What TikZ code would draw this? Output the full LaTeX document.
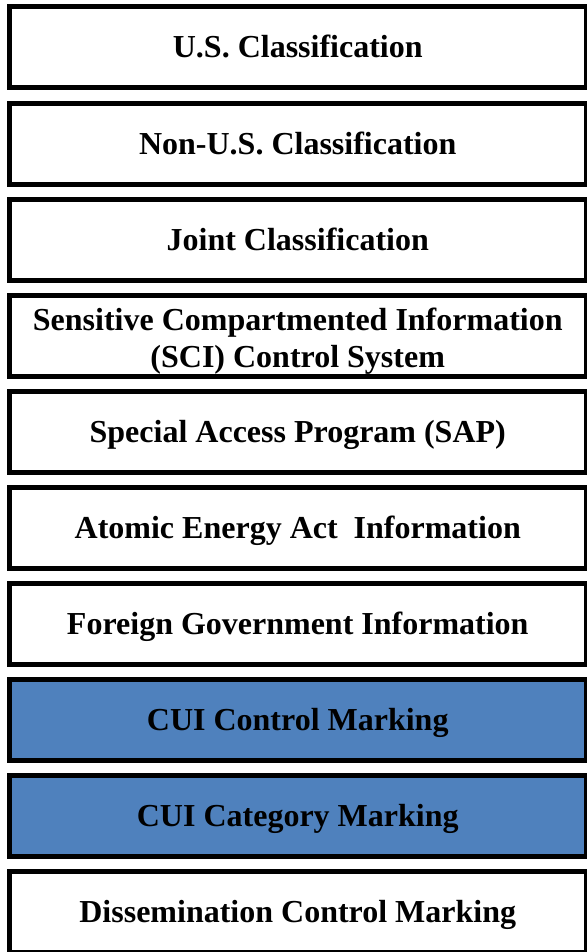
\documentclass[tikz,border=0pt]{standalone}
\usepackage{fontspec}
\setmainfont{Liberation Serif}[BoldFont={Liberation Serif Bold}]
\usepackage{xcolor}
\definecolor{cuiblue}{RGB}{79,129,189}

\begin{document}
\begin{tikzpicture}[x=1pt, y=-1pt,
	layer/.style={draw, fill=white, line width=5pt, minimum width=576.5pt,
		minimum height=81pt, inner sep=0pt, align=center,
		text height=21pt, text depth=0pt,
		font=\bfseries\fontsize{32}{37}\selectfont},
	twoline/.style={layer, text height=63pt},
	cui/.style={layer, fill=cuiblue}]
	\useasboundingbox (0,0) rectangle (586,952);
	\foreach \i/\txt/\kind in {
		0/{U.S. Classification}/layer,
		1/{Non-U.S. Classification}/layer,
		2/{Joint Classification}/layer,
		3/{Sensitive Compartmented Information\\(SCI) Control System}/twoline,
		4/{Special Access Program (SAP)}/layer,
		5/{Atomic Energy Act\ \ Information}/layer,
		6/{Foreign Government Information}/layer,
		7/{CUI Control Marking}/cui,
		8/{CUI Category Marking}/cui,
		9/{Dissemination Control Marking}/layer}
	\node[\kind] (box\i) at (297.75, 47.5+96.1*\i) {\txt};
\end{tikzpicture}
\end{document}
